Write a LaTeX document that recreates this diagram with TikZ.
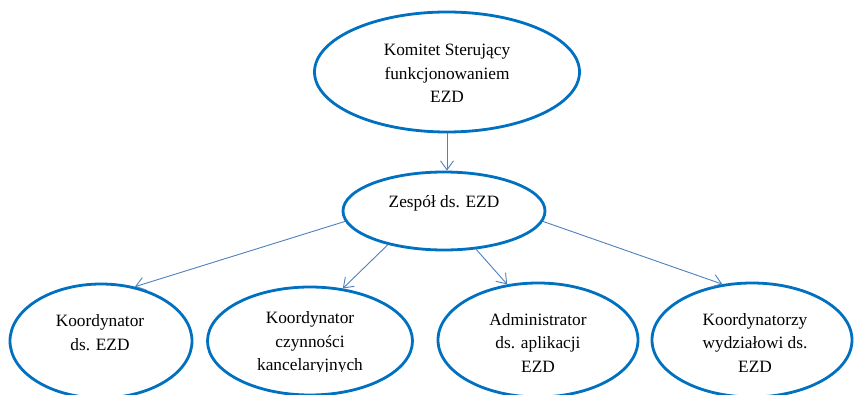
\documentclass[tikz,border=0pt]{standalone}
\usepackage{fontspec}
\setmainfont{Liberation Serif}
\usetikzlibrary{shapes.geometric,arrows.meta}
\definecolor{ellblue}{RGB}{0,112,192}
\definecolor{arrblue}{RGB}{79,129,189}
\tikzset{
  ell/.style={ellipse, draw=ellblue, line width=2.8pt, inner sep=0pt},
  txt/.style={align=center, inner sep=0pt, font=\fontsize{17.3}{23.7}\selectfont},
  conn/.style={draw=arrblue, line width=0.9pt, -{Straight Barb[length=9pt,width=13pt]}}
}
\begin{document}
\begin{tikzpicture}[x=1pt,y=-1pt]
\clip (0,0) rectangle (855,395);
\fill[white] (0,0) rectangle (855,395);
% ellipses
\node[ell, minimum width=265pt, minimum height=120pt] (top) at (447,72) {};
\node[ell, minimum width=202pt, minimum height=78pt] (zesp) at (444,211) {};
\node[ell, minimum width=182pt, minimum height=114pt] (k1) at (101,341) {};
\node[ell, minimum width=205pt, minimum height=108pt] (k2) at (310,341) {};
\node[ell, minimum width=200pt, minimum height=114pt] (k3) at (538,340) {};
\node[ell, minimum width=200pt, minimum height=114pt] (k4) at (752,340) {};
% texts
\node[txt] (topt) at (447,73.5) {Komitet Sterujący\\funkcjonowaniem\\EZD};
\node[txt] (zespt) at (444,203) {Zespół ds. EZD};
\node[txt] (k1t) at (100,332.5) {Koordynator\\ds. EZD};
\begin{scope}
\clip (200,290) rectangle (420,372);
\node[txt] (k2t) at (310,343) {Koordynator\\czynności\\kancelaryjnych};
\end{scope}
\node[txt] (k3t) at (538,343) {Administrator\\ds. aplikacji\\EZD};
\node[txt] (k4t) at (755,343) {Koordynatorzy\\wydziałowi ds.\\EZD};
% connectors
\draw[conn] (top.south) -- (top.south |- zesp.north);
\draw[conn] (zesp.186) -- (k1.58);
\draw[conn] (zesp.211) -- (k2.58);
\draw[conn] (zesp.310) -- (k3.119);
\draw[conn] (zesp.354) -- (k4.118);
\end{tikzpicture}
\end{document}
